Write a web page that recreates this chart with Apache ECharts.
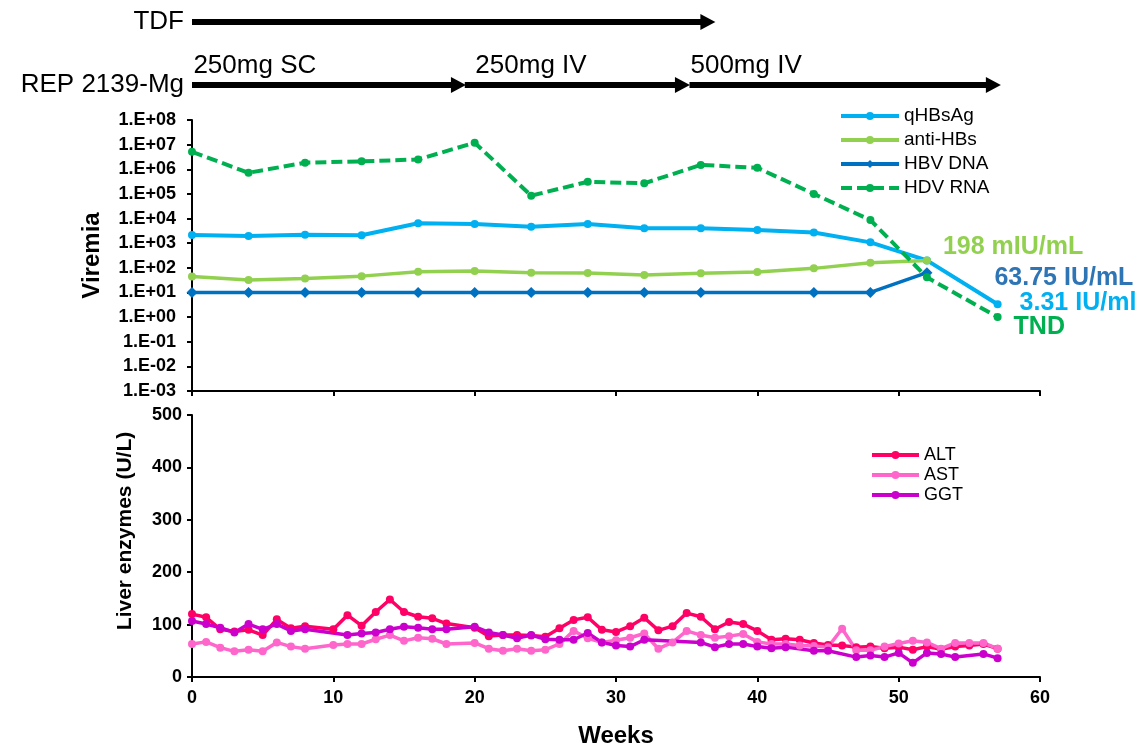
<!DOCTYPE html>
<html>
<head>
<meta charset="utf-8">
<script src="https://cdn.jsdelivr.net/npm/echarts@6/dist/echarts.min.js"></script>
<style>
  html, body { margin: 0; padding: 0; background: #ffffff; }
  #chart { width: 1144px; height: 749px; }
</style>
</head>
<body>
<div id="chart"></div>
<script>
const FONT = '"Liberation Sans", Arial, sans-serif';

// Treatment timeline (weeks); span ends mark the centre of each arrowhead
const therapyRows = ['REP 2139-Mg', 'TDF'];
const tdfSpan = [0, 36.5];
const repPhaseLabels = ['250mg SC', '250mg IV', '500mg IV'];
const repPhaseStart = [0, 19.3, 35.2];
const repPhaseEnd = [18.85, 34.7, 56.7];
const repLabelWeeks = [0.1, 20.05, 35.27];

// Viral markers
const hbsagWeeks = [0, 4, 8, 12, 16, 20, 24, 28, 32, 36, 40, 44, 48, 52, 57];
const hbsagValues = [2150, 1950, 2200, 2100, 6400, 6000, 4650, 6000, 4000, 4000, 3400, 2700, 1080, 200, 3.31];

const antiHbsWeeks = [0, 4, 8, 12, 16, 20, 24, 28, 32, 36, 40, 44, 48, 52];
const antiHbsValues = [44, 32, 37, 46, 69, 74, 63, 61, 51, 60, 67, 95, 161, 198];

const hbvDnaWeeks = [0, 4, 8, 12, 16, 20, 24, 28, 32, 36, 44, 48, 52];
const hbvDnaValues = [10, 10, 10, 10, 10, 10, 10, 10, 10, 10, 10, 10, 63.75];

const hdvRnaWeeks = [0, 4, 8, 12, 16, 20, 24, 28, 32, 36, 40, 44, 48, 52, 57];
const hdvRnaValues = [5.1e6, 7.2e5, 1.85e6, 2.1e6, 2.5e6, 1.2e7, 8.5e4, 3.1e5, 2.7e5, 1.5e6, 1.15e6, 1.0e5, 8.7e3, 41, 1];

// Liver enzymes (U/L)
const altWeeks = [0, 1, 2, 3, 4, 5, 6, 7, 8, 10, 11, 12, 13, 14, 15, 16, 17, 18, 20, 21, 22, 23, 24, 25, 26, 27, 28, 29,
  30, 31, 32, 33, 34, 35, 36, 37, 38, 39, 40, 41, 42, 43, 44, 45, 46, 47, 48, 49, 50, 51, 52, 53, 54, 55, 56, 57];
const altValues = [120, 114, 91, 87, 90, 80, 110, 93, 97, 91, 118, 98, 124, 148, 124, 115, 112, 102, 94, 78, 80, 80, 79, 77, 93, 109, 114, 90,
  86, 97, 113, 89, 97, 122, 115, 91, 105, 101, 88, 71, 73, 71, 65, 61, 60, 57, 58, 55, 57, 52, 58, 53, 58, 60, 63, 54];

const astWeeks = [0, 1, 2, 3, 4, 5, 6, 7, 8, 10, 11, 12, 13, 14, 15, 16, 17, 18, 20, 21, 22, 23, 24, 25, 26, 27, 28, 29,
  30, 31, 32, 33, 34, 35, 36, 37, 38, 39, 40, 41, 42, 43, 44, 45, 46, 47, 48, 49, 50, 51, 52, 53, 54, 55, 56, 57];
const astValues = [63, 67, 56, 49, 52, 49, 66, 58, 54, 61, 63, 63, 72, 80, 69, 75, 73, 63, 65, 54, 50, 54, 50, 52, 63, 88, 74, 66,
  70, 75, 83, 54, 66, 88, 80, 75, 78, 82, 67, 63, 63, 60, 59, 57, 92, 51, 51, 58, 64, 69, 66, 54, 65, 65, 65, 54];

const ggtWeeks = [0, 1, 2, 3, 4, 5, 6, 7, 8, 11, 12, 13, 14, 15, 16, 17, 18, 20, 21, 22, 23, 24, 25, 26, 27, 28, 29,
  30, 31, 32, 36, 37, 38, 39, 40, 41, 42, 44, 45, 47, 48, 49, 50, 51, 52, 53, 54, 56, 57];
const ggtValues = [107, 101, 94, 85, 101, 91, 101, 88, 91, 80, 83, 85, 91, 96, 94, 91, 91, 96, 85, 80, 74, 80, 72, 71, 71, 84, 66,
  60, 58, 71, 66, 57, 63, 63, 58, 55, 57, 50, 50, 38, 41, 38, 46, 27, 46, 44, 38, 44, 36];

const weekTicks = [0, 10, 20, 30, 40, 50, 60];

const COLORS = {
  hbsag: '#00B0F0',
  antiHbs: '#92D050',
  hbvDna: '#0070C0',
  hbvDnaNote: '#2E75B6',
  hdvRna: '#00B050',
  alt: '#FF0066',
  ast: '#FF66CC',
  ggt: '#CC00CC'
};

function pairs(weeks, values) {
  return weeks.map((w, i) => [w, values[i]]);
}

// attach a bold note to the last point of a series
function withEndNote(data, color, formatter, distance, offset) {
  const last = data.length - 1;
  return data.map((d, i) => i !== last ? d : {
    value: d,
    label: {
      show: true, position: 'right', distance: distance, offset: offset,
      formatter: formatter, color: color,
      fontFamily: FONT, fontWeight: 'bold', fontSize: 25
    }
  });
}

const axisLineStyle = { lineStyle: { color: '#000', width: 2 } };
const axisTickStyle = { show: true, inside: false, length: 5, lineStyle: { color: '#000', width: 2 } };
const tickFont = { fontFamily: FONT, fontWeight: 'bold', fontSize: 18, color: '#000' };

function logLabel(v) {
  const e = Math.round(Math.log10(v));
  return '1.E' + (e < 0 ? '-' : '+') + String(Math.abs(e)).padStart(2, '0');
}

const upperLine = (name, color, extra) => Object.assign({
  name: name, type: 'line', xAxisIndex: 0, yAxisIndex: 0,
  symbol: 'circle', symbolSize: 8, showAllSymbol: true,
  itemStyle: { color: color },
  lineStyle: { color: color, width: 4 },
  emphasis: { disabled: true }
}, extra);

const lowerLine = (name, color, weeks, values) => ({
  name: name, type: 'line', xAxisIndex: 1, yAxisIndex: 1,
  symbol: 'circle', symbolSize: 8, showAllSymbol: true,
  itemStyle: { color: color },
  lineStyle: { color: color, width: 3.5 },
  emphasis: { disabled: true },
  data: pairs(weeks, values)
});

const arrowShafts = [{ coords: [[tdfSpan[0], 1], [tdfSpan[1], 1]] }].concat(
  repPhaseStart.map((s, i) => ({ coords: [[s, 0], [repPhaseEnd[i], 0]] }))
);
const arrowHeads = [[tdfSpan[1], 1]].concat(repPhaseEnd.map(e => [e, 0]));

const chart = echarts.init(document.getElementById('chart'), null, { renderer: 'canvas' });

chart.setOption({
  animation: false,
  backgroundColor: '#ffffff',
  textStyle: { fontFamily: FONT },
  grid: [
    { left: 192, right: 104, top: 120, height: 271 },
    { left: 192, right: 104, top: 415, height: 265 },
    { left: 192, right: 104, top: 22, height: 63 }
  ],
  legend: [
    {
      data: ['qHBsAg', 'anti-HBs', 'HBV DNA', 'HDV RNA'],
      orient: 'vertical', left: 834, top: 101,
      itemWidth: 58, itemHeight: 10, itemGap: 4,
      lineStyle: { width: 4 },
      textStyle: { fontFamily: FONT, fontSize: 19, color: '#000', lineHeight: 20 },
      selectedMode: false
    },
    {
      data: ['ALT', 'AST', 'GGT'],
      orient: 'vertical', left: 865, top: 441,
      itemWidth: 47, itemHeight: 10, itemGap: 2,
      lineStyle: { width: 4 },
      textStyle: { fontFamily: FONT, fontSize: 18, color: '#000', lineHeight: 18 },
      selectedMode: false
    }
  ],
  xAxis: [
    {
      gridIndex: 0, type: 'value', min: 0, max: 60, interval: 10,
      axisLine: axisLineStyle, axisTick: axisTickStyle,
      axisLabel: { show: false }, splitLine: { show: false }
    },
    {
      gridIndex: 1, type: 'value', min: 0, max: 60, interval: 10,
      axisLine: axisLineStyle, axisTick: axisTickStyle,
      axisLabel: Object.assign({ margin: 12, formatter: v => weekTicks.includes(v) ? String(v) : '' }, tickFont),
      splitLine: { show: false },
      name: 'Weeks', nameLocation: 'middle', nameGap: 47,
      nameTextStyle: { fontFamily: FONT, fontWeight: 'bold', fontSize: 24, color: '#000' }
    },
    {
      gridIndex: 2, type: 'value', min: 0, max: 60, show: false
    }
  ],
  yAxis: [
    {
      gridIndex: 0, type: 'log', logBase: 10, min: 0.001, max: 1e8, interval: 1,
      axisLine: axisLineStyle, axisTick: axisTickStyle,
      axisLabel: Object.assign({ margin: 16, formatter: logLabel }, tickFont),
      minorTick: { show: false }, splitLine: { show: false },
      name: 'Viremia', nameLocation: 'middle', nameGap: 88,
      nameTextStyle: { fontFamily: FONT, fontWeight: 'bold', fontSize: 24, color: '#000' }
    },
    {
      gridIndex: 1, type: 'value', min: 0, max: 500, interval: 100,
      axisLine: axisLineStyle, axisTick: axisTickStyle,
      axisLabel: Object.assign({ margin: 10 }, tickFont),
      splitLine: { show: false }
    },
    {
      gridIndex: 2, type: 'value', min: 0, max: 1, interval: 1,
      axisLine: { show: false }, axisTick: { show: false }, splitLine: { show: false },
      axisLabel: {
        margin: 8, formatter: v => therapyRows[v] || '',
        fontFamily: FONT, fontSize: 26, color: '#000'
      }
    }
  ],
  graphic: [
    {
      type: 'text', x: 125, y: 531, rotation: Math.PI / 2,
      style: {
        text: 'Liver enzymes (U/L)', fill: '#000',
        font: 'bold 21px ' + FONT, textAlign: 'center', textVerticalAlign: 'middle'
      }
    }
  ],
  series: [
    upperLine('qHBsAg', COLORS.hbsag, {
      data: withEndNote(pairs(hbsagWeeks, hbsagValues), COLORS.hbsag,
        p => p.value[1] + ' IU/ml', 18, [0, -1])
    }),
    upperLine('anti-HBs', COLORS.antiHbs, {
      lineStyle: { color: COLORS.antiHbs, width: 3.5 },
      data: withEndNote(pairs(antiHbsWeeks, antiHbsValues), COLORS.antiHbs,
        p => p.value[1] + ' mIU/mL', 12, [0, -13])
    }),
    upperLine('HBV DNA', COLORS.hbvDna, {
      symbol: 'diamond', symbolSize: 11,
      lineStyle: { color: COLORS.hbvDna, width: 3.5 },
      data: withEndNote(pairs(hbvDnaWeeks, hbvDnaValues), COLORS.hbvDnaNote,
        p => p.value[1] + ' IU/mL', 62, [0, 5])
    }),
    upperLine('HDV RNA', COLORS.hdvRna, {
      lineStyle: { color: COLORS.hdvRna, width: 4, type: [11, 5] },
      data: withEndNote(pairs(hdvRnaWeeks, hdvRnaValues), COLORS.hdvRna,
        () => 'TND', 12, [0, 10])
    }),
    lowerLine('ALT', COLORS.alt, altWeeks, altValues),
    lowerLine('AST', COLORS.ast, astWeeks, astValues),
    lowerLine('GGT', COLORS.ggt, ggtWeeks, ggtValues),
    {
      name: 'treatment', type: 'lines', coordinateSystem: 'cartesian2d',
      xAxisIndex: 2, yAxisIndex: 2,
      symbol: ['none', 'none'],
      lineStyle: { color: '#000', width: 6, opacity: 1, curveness: 0 },
      emphasis: { disabled: true },
      data: arrowShafts
    },
    {
      name: 'treatment heads', type: 'scatter', xAxisIndex: 2, yAxisIndex: 2,
      symbol: 'triangle', symbolSize: [16, 15], symbolRotate: -90,
      itemStyle: { color: '#000', opacity: 1 },
      silent: true,
      data: arrowHeads
    },
    {
      name: 'phases', type: 'scatter', xAxisIndex: 2, yAxisIndex: 2,
      symbolSize: 0, silent: true,
      itemStyle: { opacity: 1 },
      label: {
        show: true, position: 'right', distance: 0, offset: [0, -19],
        formatter: p => repPhaseLabels[p.dataIndex],
        fontFamily: FONT, fontSize: 26, color: '#000', opacity: 1
      },
      data: repLabelWeeks.map(w => [w, 0])
    }
  ]
});
</script>
</body>
</html>
